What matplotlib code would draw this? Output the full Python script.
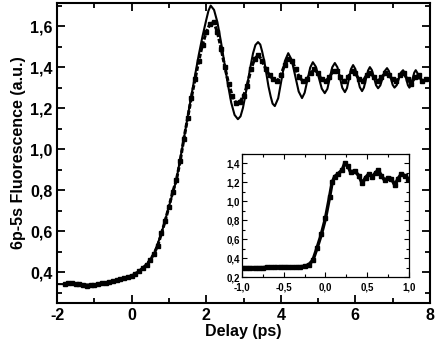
import numpy as np
import matplotlib
matplotlib.use('Agg')
import matplotlib.pyplot as plt
from matplotlib.ticker import MultipleLocator

plt.rcParams['font.family'] = ['Liberation Sans', 'DejaVu Sans']
plt.rcParams['font.weight'] = 'bold'

# measured fluorescence (main panel)
data_x = [-1.8, -1.7, -1.6, -1.5, -1.4, -1.3, -1.2, -1.1, -1.0, -0.9,
          -0.8, -0.7, -0.6, -0.5, -0.4, -0.3, -0.2, -0.1, 0.0, 0.1,
          0.2, 0.3, 0.4, 0.5, 0.6, 0.7, 0.8, 0.9, 1.0, 1.1,
          1.2, 1.3, 1.4, 1.5, 1.6, 1.7, 1.8, 1.9, 2.0, 2.1,
          2.2, 2.3, 2.4, 2.5, 2.6, 2.7, 2.8, 2.9, 3.0, 3.1,
          3.2, 3.3, 3.4, 3.5, 3.6, 3.7, 3.8, 3.9, 4.0, 4.1,
          4.2, 4.3, 4.4, 4.5, 4.6, 4.7, 4.8, 4.9, 5.0, 5.1,
          5.2, 5.3, 5.4, 5.5, 5.6, 5.7, 5.8, 5.9, 6.0, 6.1,
          6.2, 6.3, 6.4, 6.5, 6.6, 6.7, 6.8, 6.9, 7.0, 7.1,
          7.2, 7.3, 7.4, 7.5, 7.6, 7.7, 7.8, 7.9]
data_y = [0.342, 0.345, 0.347, 0.343, 0.340, 0.336, 0.334, 0.336, 0.339, 0.342,
          0.346, 0.349, 0.352, 0.356, 0.360, 0.365, 0.370, 0.376, 0.383, 0.393,
          0.405, 0.420, 0.437, 0.460, 0.49, 0.53, 0.59, 0.65, 0.72, 0.79,
          0.85, 0.94, 1.05, 1.15, 1.25, 1.34, 1.43, 1.51, 1.57, 1.61,
          1.62, 1.57, 1.49, 1.40, 1.32, 1.26, 1.225, 1.23, 1.26, 1.31,
          1.39, 1.44, 1.46, 1.43, 1.39, 1.36, 1.34, 1.33, 1.36, 1.41,
          1.44, 1.43, 1.39, 1.35, 1.33, 1.34, 1.37, 1.39, 1.37, 1.34,
          1.33, 1.35, 1.38, 1.38, 1.35, 1.33, 1.35, 1.38, 1.37, 1.34,
          1.33, 1.36, 1.37, 1.35, 1.33, 1.35, 1.37, 1.36, 1.34, 1.33,
          1.36, 1.37, 1.34, 1.32, 1.35, 1.36, 1.33, 1.34]

# model curve (main panel)
fit_x = [-2.0, -1.5, -1.0, -0.5, 0.0, 0.2, 0.4, 0.6, 0.8, 1.0,
         1.2, 1.4, 1.6, 1.8, 1.9, 2.0, 2.06, 2.12,
         2.21, 2.30, 2.39, 2.485, 2.58, 2.67, 2.76, 2.85,
         2.92, 2.985, 3.05, 3.12, 3.19, 3.255, 3.32, 3.39,
         3.45, 3.50, 3.56, 3.615, 3.67, 3.73, 3.78, 3.84,
         3.93, 4.02, 4.11, 4.20, 4.29, 4.385, 4.48, 4.57,
         4.64, 4.715, 4.79, 4.86, 4.94, 5.02, 5.10, 5.18,
         5.25, 5.315, 5.38, 5.45, 5.52, 5.585, 5.65, 5.72,
         5.775, 5.83, 5.885, 5.94, 6.00, 6.06, 6.12, 6.18,
         6.23, 6.285, 6.34, 6.39, 6.445, 6.50, 6.555, 6.61,
         6.67, 6.73, 6.79, 6.85, 6.90, 6.95, 7.00, 7.05,
         7.11, 7.165, 7.22, 7.28, 7.32, 7.365, 7.41, 7.45,
         7.49, 7.535, 7.58, 7.62, 7.66, 7.70]
fit_y = [0.342, 0.341, 0.339, 0.356, 0.383, 0.405, 0.437, 0.49, 0.59, 0.72,
         0.85, 1.05, 1.26, 1.46, 1.55, 1.63, 1.675, 1.70,
         1.679, 1.619, 1.529, 1.423, 1.317, 1.227, 1.167, 1.146,
         1.160, 1.201, 1.262, 1.334, 1.406, 1.467, 1.508, 1.522,
         1.510, 1.476, 1.426, 1.366, 1.306, 1.256, 1.222, 1.210,
         1.248, 1.339, 1.430, 1.468, 1.436, 1.359, 1.281, 1.249,
         1.275, 1.337, 1.398, 1.424, 1.402, 1.349, 1.295, 1.273,
         1.294, 1.347, 1.399, 1.420, 1.399, 1.349, 1.299, 1.278,
         1.297, 1.344, 1.391, 1.410, 1.391, 1.347, 1.302, 1.283,
         1.300, 1.342, 1.383, 1.400, 1.385, 1.349, 1.312, 1.297,
         1.311, 1.346, 1.381, 1.395, 1.381, 1.348, 1.314, 1.300,
         1.312, 1.343, 1.373, 1.385, 1.373, 1.343, 1.312, 1.300,
         1.312, 1.343, 1.373, 1.385, 1.373, 1.345]

# inset: first picosecond
ins_x = [-1.0, -0.95, -0.9, -0.85, -0.8, -0.75, -0.7, -0.65, -0.6, -0.55,
         -0.5, -0.45, -0.4, -0.35, -0.3, -0.25, -0.2, -0.15, -0.1, -0.05,
         0.0, 0.05, 0.08, 0.11, 0.15, 0.2, 0.23, 0.27, 0.3, 0.35,
         0.4, 0.44, 0.48, 0.52, 0.56, 0.6, 0.63, 0.67, 0.71, 0.75,
         0.79, 0.83, 0.87, 0.91, 0.95, 0.99]
ins_y = [0.30, 0.30, 0.30, 0.30, 0.30, 0.30, 0.305, 0.305, 0.31, 0.31,
         0.31, 0.31, 0.305, 0.31, 0.31, 0.315, 0.33, 0.38, 0.51, 0.65,
         0.82, 1.05, 1.20, 1.26, 1.29, 1.33, 1.40, 1.37, 1.31, 1.32,
         1.27, 1.19, 1.25, 1.29, 1.26, 1.30, 1.33, 1.27, 1.22, 1.25,
         1.24, 1.17, 1.24, 1.29, 1.27, 1.24]

main_xticks = [-2, 0, 2, 4, 6, 8]
main_yticks = [0.4, 0.6, 0.8, 1.0, 1.2, 1.4, 1.6]
main_ylabels = ['0,4', '0,6', '0,8', '1,0', '1,2', '1,4', '1,6']
ins_xticks = [-1.0, -0.5, 0.0, 0.5, 1.0]
ins_xlabels = ['-1,0', '-0,5', '0,0', '0,5', '1,0']
ins_yticks = [0.2, 0.4, 0.6, 0.8, 1.0, 1.2, 1.4]
ins_ylabels = ['0,2', '0,4', '0,6', '0,8', '1,0', '1,2', '1,4']

fig = plt.figure(figsize=(4.36, 3.49), dpi=100)
ax = fig.add_axes([0.131, 0.132, 0.855, 0.859])

ax.plot(data_x, data_y, color='black', marker='s', ms=3, lw=2.2, ls='--', dashes=(1.5, 0.6))
ax.plot(fit_x, fit_y, color='black', lw=1.5)

ax.set_xlim(-2, 8)
ax.set_ylim(0.25, 1.712)
ax.set_xticks(main_xticks)
ax.set_xticklabels([str(t) for t in main_xticks])
ax.set_yticks(main_yticks)
ax.set_yticklabels(main_ylabels)
ax.xaxis.set_minor_locator(MultipleLocator(1))
ax.yaxis.set_minor_locator(MultipleLocator(0.1))
ax.tick_params(which='both', direction='in', top=True, right=True, labelsize=11.5, width=1.3)
ax.tick_params(which='major', length=6)
ax.tick_params(which='minor', length=3.5)
for s in ax.spines.values():
    s.set_linewidth(1.5)
ax.set_xlabel('Delay (ps)', fontsize=11.5, fontweight='bold', labelpad=1)
ax.set_ylabel('6p-5s Fluorescence (a.u.)', fontsize=11.5, fontweight='bold', labelpad=3)

ins = fig.add_axes([0.555, 0.206, 0.383, 0.353])
ins.plot(ins_x, ins_y, color='black', marker='s', ms=2.5, lw=2.5)
ins.set_xlim(-1, 1)
ins.set_ylim(0.2, 1.5)
ins.set_xticks(ins_xticks)
ins.set_xticklabels(ins_xlabels)
ins.set_yticks(ins_yticks)
ins.set_yticklabels(ins_ylabels)
ins.xaxis.set_minor_locator(MultipleLocator(0.25))
ins.yaxis.set_minor_locator(MultipleLocator(0.1))
ins.tick_params(which='both', direction='in', top=True, right=True, labelsize=7, width=0.8)
ins.tick_params(axis='x', pad=4)
ins.tick_params(axis='y', pad=1.5)
ins.tick_params(which='major', length=3.5)
ins.tick_params(which='minor', length=2)
for s in ins.spines.values():
    s.set_linewidth(0.9)

fig.savefig('out.png', dpi=100)
